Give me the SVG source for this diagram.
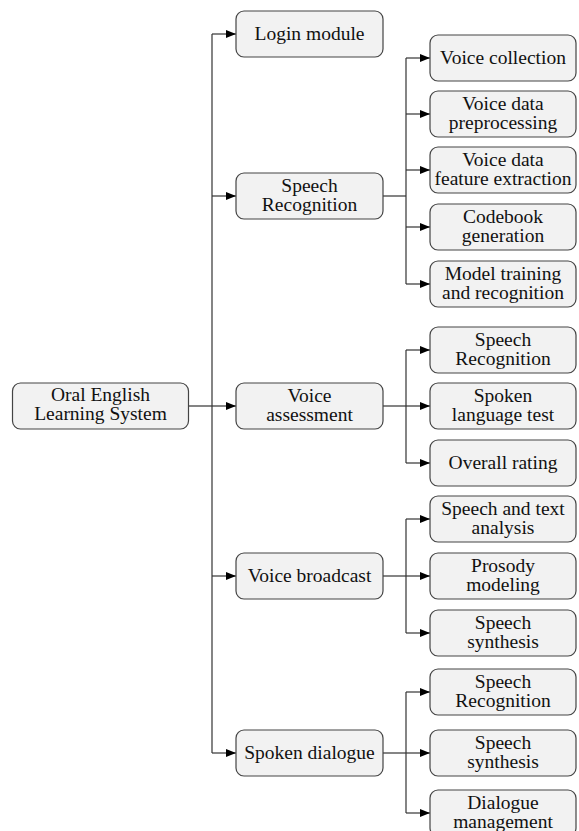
<svg xmlns="http://www.w3.org/2000/svg" width="579" height="831" viewBox="0 0 579 831">
<defs>
<marker id="ah" markerWidth="10" markerHeight="8" refX="10" refY="4" orient="auto" markerUnits="userSpaceOnUse">
<path d="M0,0 L10,4 L0,8 Z" fill="#000"/>
</marker>
<style>
.n rect{fill:#f2f2f2;stroke:#444;stroke-width:1.2}
.n text{font-family:"Liberation Serif","Times New Roman",serif;font-size:19.5px;fill:#111;text-anchor:middle}
.c path{fill:none;stroke:#333;stroke-width:1.2}
.c .a{marker-end:url(#ah)}
</style>
</defs>
<rect width="579" height="831" fill="#fff"/>
<g class="c">
<path d="M188,406 H212"/>
<path d="M212,34 V753"/>
<path class="a" d="M212,34 H236"/>
<path class="a" d="M212,196 H236"/>
<path class="a" d="M212,406 H236"/>
<path class="a" d="M212,576 H236"/>
<path class="a" d="M212,753 H236"/>
<path d="M383,196 H406"/>
<path d="M406,58 V284"/>
<path class="a" d="M406,58 H430"/>
<path class="a" d="M406,114 H430"/>
<path class="a" d="M406,170 H430"/>
<path class="a" d="M406,227 H430"/>
<path class="a" d="M406,284 H430"/>
<path d="M383,406 H406"/>
<path d="M406,350 V463"/>
<path class="a" d="M406,350 H430"/>
<path class="a" d="M406,406 H430"/>
<path class="a" d="M406,463 H430"/>
<path d="M383,576 H406"/>
<path d="M406,519 V633"/>
<path class="a" d="M406,519 H430"/>
<path class="a" d="M406,576 H430"/>
<path class="a" d="M406,633 H430"/>
<path d="M383,753 H406"/>
<path d="M406,692 V813"/>
<path class="a" d="M406,692 H430"/>
<path class="a" d="M406,753 H430"/>
<path class="a" d="M406,813 H430"/>
</g>
<g id="root" class="n"><rect x="12.5" y="383" width="176" height="46" rx="8"/><text x="100.5" y="401">Oral English</text><text x="100.5" y="420">Learning System</text></g>
<g id="login" class="n"><rect x="236" y="11" width="147" height="46" rx="8"/><text x="309.5" y="40">Login module</text></g>
<g id="sr" class="n"><rect x="236" y="173" width="147" height="46" rx="8"/><text x="309.5" y="192">Speech</text><text x="309.5" y="211">Recognition</text></g>
<g id="va" class="n"><rect x="236" y="383" width="147" height="46" rx="8"/><text x="309.5" y="402">Voice</text><text x="309.5" y="421">assessment</text></g>
<g id="vb" class="n"><rect x="236" y="553" width="147" height="46" rx="8"/><text x="309.5" y="582">Voice broadcast</text></g>
<g id="sd" class="n"><rect x="236" y="730" width="147" height="46" rx="8"/><text x="309.5" y="759">Spoken dialogue</text></g>
<g id="sr1" class="n"><rect x="430" y="35" width="146" height="46" rx="8"/><text x="503" y="64">Voice collection</text></g>
<g id="sr2" class="n"><rect x="430" y="91" width="146" height="46" rx="8"/><text x="503" y="110">Voice data</text><text x="503" y="129">preprocessing</text></g>
<g id="sr3" class="n"><rect x="430" y="147" width="146" height="46" rx="8"/><text x="503" y="166">Voice data</text><text x="503" y="185">feature extraction</text></g>
<g id="sr4" class="n"><rect x="430" y="204" width="146" height="46" rx="8"/><text x="503" y="223">Codebook</text><text x="503" y="242">generation</text></g>
<g id="sr5" class="n"><rect x="430" y="261" width="146" height="46" rx="8"/><text x="503" y="280">Model training</text><text x="503" y="299">and recognition</text></g>
<g id="va1" class="n"><rect x="430" y="327" width="146" height="46" rx="8"/><text x="503" y="346">Speech</text><text x="503" y="365">Recognition</text></g>
<g id="va2" class="n"><rect x="430" y="383" width="146" height="46" rx="8"/><text x="503" y="402">Spoken</text><text x="503" y="421">language test</text></g>
<g id="va3" class="n"><rect x="430" y="440" width="146" height="46" rx="8"/><text x="503" y="469">Overall rating</text></g>
<g id="vb1" class="n"><rect x="430" y="496" width="146" height="46" rx="8"/><text x="503" y="515">Speech and text</text><text x="503" y="534">analysis</text></g>
<g id="vb2" class="n"><rect x="430" y="553" width="146" height="46" rx="8"/><text x="503" y="572">Prosody</text><text x="503" y="591">modeling</text></g>
<g id="vb3" class="n"><rect x="430" y="610" width="146" height="46" rx="8"/><text x="503" y="629">Speech</text><text x="503" y="648">synthesis</text></g>
<g id="sd1" class="n"><rect x="430" y="669" width="146" height="46" rx="8"/><text x="503" y="688">Speech</text><text x="503" y="707">Recognition</text></g>
<g id="sd2" class="n"><rect x="430" y="730" width="146" height="46" rx="8"/><text x="503" y="749">Speech</text><text x="503" y="768">synthesis</text></g>
<g id="sd3" class="n"><rect x="430" y="790" width="146" height="46" rx="8"/><text x="503" y="809">Dialogue</text><text x="503" y="828">management</text></g>
</svg>
